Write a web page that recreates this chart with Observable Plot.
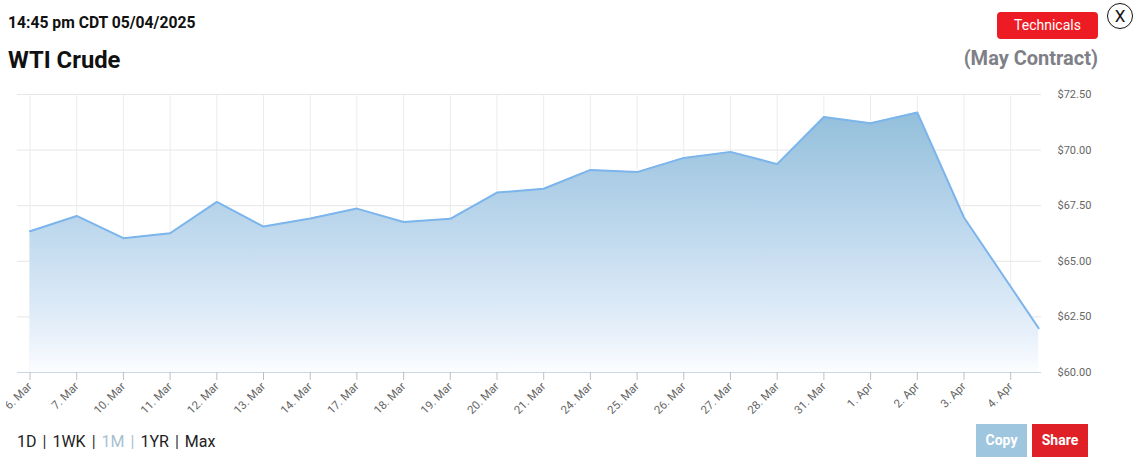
<!DOCTYPE html>
<html>
<head>
<meta charset="utf-8">
<script src="https://cdn.jsdelivr.net/npm/d3@7"></script>
<script src="https://cdn.jsdelivr.net/npm/@observablehq/plot@0.6"></script>
<style>
  html, body { margin: 0; padding: 0; background: #fff; }
  body { width: 1133px; height: 469px; position: relative; overflow: hidden; font-family: Roboto, "Noto Sans", sans-serif; }
  .abs { position: absolute; white-space: nowrap; }
  #stamp { left: 8px; top: 13px; font-size: 15.7px; font-weight: 700; color: #111; }
  #title { left: 8px; top: 46px; font-size: 23.8px; font-weight: 700; color: #111; }
  #contract { right: 35px; top: 46px; font-size: 20px; font-weight: 700; color: #7f8087; }
  #tech { left: 997px; top: 12px; width: 101px; height: 27px; background: #ed1c24; color: #fff; border-radius: 4px;
          font-size: 14px; line-height: 27px; text-align: center; }
  #close { left: 1107px; top: 3px; width: 24px; height: 24px; border: 1px solid #111; border-radius: 50%;
           font-size: 17px; line-height: 24px; text-align: center; color: #111; }
  #chart { left: 6px; top: 80px; }
  #ranges { left: 17px; top: 432px; font-size: 16px; color: #222; }
  #ranges .sep { color: #333; margin: 0 6px; }
  #ranges .off { color: #a9bfcf; }
  .btn { top: 424px; height: 33px; line-height: 33px; color: #fff; font-size: 14px; font-weight: 700; text-align: center; }
  #copy { left: 976px; width: 51px; background: #9fc6df; }
  #share { left: 1032px; width: 56px; background: #e02027; }
</style>
</head>
<body>
<div id="stamp" class="abs">14:45 pm CDT 05/04/2025</div>
<div id="title" class="abs">WTI Crude</div>
<div id="contract" class="abs">(May Contract)</div>
<div id="tech" class="abs">Technicals</div>
<div id="close" class="abs">X</div>
<div id="chart" class="abs"></div>
<div id="ranges" class="abs">1D<span class="sep">|</span>1WK<span class="sep">|</span><span class="off">1M</span><span class="sep off">|</span>1YR<span class="sep">|</span>Max</div>
<div id="copy" class="abs btn">Copy</div>
<div id="share" class="abs btn">Share</div>
<script>
// ---- data ----
const dayLabels = ["6. Mar","7. Mar","10. Mar","11. Mar","12. Mar","13. Mar","14. Mar","17. Mar","18. Mar","19. Mar","20. Mar","21. Mar","24. Mar","25. Mar","26. Mar","27. Mar","28. Mar","31. Mar","1. Apr","2. Apr","3. Apr","4. Apr"];
// trading-session position of each quote (last one is the live quote partway into the session)
const sessions = [0,1,2,3,4,5,6,7,8,9,10,11,12,13,14,15,16,17,18,19,20,21.6];
const prices = [66.35,67.04,66.04,66.26,67.67,66.56,66.92,67.37,66.77,66.91,68.09,68.26,69.11,69.01,69.65,69.92,69.37,71.49,71.21,71.69,66.97,61.99];
const yTicks = [60, 62.5, 65, 67.5, 70, 72.5];
const xTicks = dayLabels.map((d, i) => i);

const data = prices.map((p, i) => ({s: sessions[i], p}));

const chart = Plot.plot({
  width: 1127,
  height: 340,
  marginLeft: 11,
  marginRight: 92,
  marginTop: 14,
  marginBottom: 48,
  style: {fontFamily: "Roboto, 'Noto Sans', sans-serif", overflow: "hidden", background: "transparent"},
  x: {type: "linear", domain: [-0.268, 21.66], label: null},
  y: {domain: [60, 72.5], label: null},
  marks: [
    Plot.gridY(yTicks, {stroke: "#e6e6e6", strokeOpacity: 1}),
    Plot.gridX(xTicks, {stroke: "#ececec", strokeOpacity: 1}),
    Plot.areaY(data, {x: "s", y1: 60, y2: "p", fill: "url(#wtiGrad)"}),
    Plot.lineY(data, {x: "s", y: "p", stroke: "#7cb5ec", strokeWidth: 2}),
    Plot.ruleY([60], {stroke: "#ccd6eb", strokeWidth: 1}),
    Plot.axisX(xTicks, {tickFormat: i => dayLabels[i], tickRotate: -45, tickSize: 8, tickPadding: 4, label: null,
                        stroke: "#c0c0c0", fill: "#666", fontSize: 11.5}),
    Plot.axisY(yTicks, {anchor: "right", tickSize: 0, tickPadding: 16, tickFormat: d3.format("$.2f"), label: null,
                        fill: "#666", fontSize: 11})
  ]
});
chart.insertAdjacentHTML("afterbegin",
  `<defs><linearGradient id="wtiGrad" x1="0" y1="0" x2="0" y2="1">
     <stop offset="0" stop-color="#93bfdb"/>
     <stop offset="0.5" stop-color="#c3dbef"/>
     <stop offset="0.85" stop-color="#e7f0fa"/>
     <stop offset="1" stop-color="#fcfdff"/>
   </linearGradient></defs>`);
document.getElementById("chart").appendChild(chart);
</script>
</body>
</html>
